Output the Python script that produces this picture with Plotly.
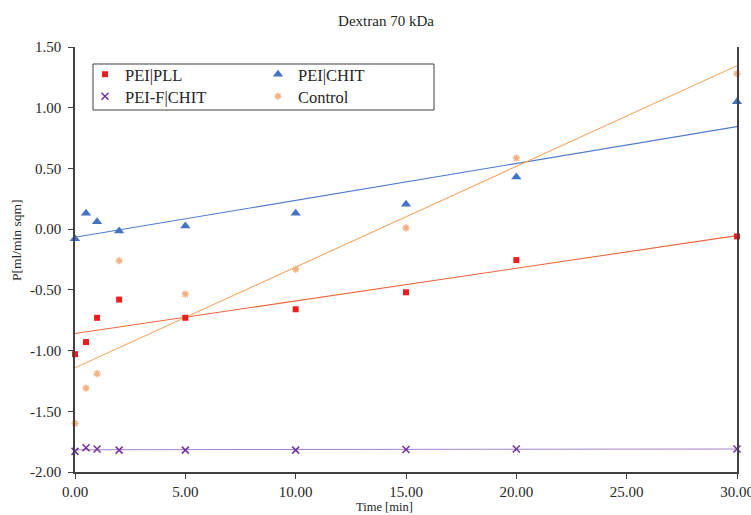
import numpy as np
import plotly.graph_objects as go

# Sampling times [min]
time_min = [0, 0.5, 1, 2, 5, 10, 15, 20, 30]

# Permeability values P [ml/min sqm] for each membrane
pei_pll = [-1.03, -0.93, -0.73, -0.58, -0.73, -0.66, -0.52, -0.255, -0.06]
pei_chit = [-0.08, 0.13, 0.06, -0.015, 0.025, 0.13, 0.205, 0.43, 1.05]
peif_chit = [-1.83, -1.80, -1.81, -1.82, -1.82, -1.82, -1.815, -1.81, -1.81]
control = [-1.60, -1.31, -1.19, -0.26, -0.535, -0.33, 0.01, 0.585, 1.28]

x_ticks = [0, 5, 10, 15, 20, 25, 30]
y_ticks = [-2.0, -1.5, -1.0, -0.5, 0.0, 0.5, 1.0, 1.5]
x_ticktext = [f"{v:.2f}" for v in x_ticks]
y_ticktext = [f"{v:.2f}" for v in y_ticks]

FONT = "Liberation Serif, Times New Roman, serif"
TEXT = "#262626"

# Plot-area geometry in pixels, used to place legend entries and titles
L, R, T, B = 75, 14, 47, 43
W, H = 751, 515
PW, PH = W - L - R, H - T - B


def px_x(px):
    return (px - L) / PW


def px_y(py):
    return 1 - (py - T) / PH


series = [
    # name, values, marker symbol, marker color, size, trend color, legend id, (x px, y px)
    ("PEI|PLL", pei_pll, "square", "#EE1D1D", 6, "#E9673F", "legend", (85, 57)),
    ("PEI-F|CHIT", peif_chit, "x-thin-open", "#7030A0", 7, "#A384CF", "legend2", (85, 79)),
    ("PEI|CHIT", pei_chit, "triangle-up", "#4472C4", 9, "#4F7CCB", "legend3", (258, 57)),
    ("Control", control, "asterisk-open", "#F4B183", 6, "#F4A865", "legend4", (258, 79)),
]

fig = go.Figure()

t = np.array(time_min, dtype=float)
t_line = np.array([0.0, 30.0])

# Linear trendlines drawn first so the markers sit on top
for name, vals, sym, mcol, msize, lcol, leg, pos in series:
    slope, intercept = np.polyfit(t, np.array(vals, dtype=float), 1)
    fig.add_trace(go.Scatter(
        x=t_line, y=slope * t_line + intercept, mode="lines",
        line=dict(color=lcol, width=1.1), showlegend=False, hoverinfo="skip",
    ))

for name, vals, sym, mcol, msize, lcol, leg, pos in series:
    fig.add_trace(go.Scatter(
        x=time_min, y=vals, mode="markers", name=name, legend=leg,
        marker=dict(symbol=sym, color=mcol, size=msize,
                    line=dict(color=mcol, width=1.5 if "open" in sym else 0)),
        cliponaxis=False,
    ))

legend_font = dict(family=FONT, size=16.5, color=TEXT)
legends = {}
for name, vals, sym, mcol, msize, lcol, leg, (lx, ly) in series:
    legends[leg] = dict(
        x=px_x(lx), xanchor="left", y=px_y(ly), yanchor="top",
        orientation="v", bgcolor="rgba(0,0,0,0)", borderwidth=0,
        font=legend_font,
    )

tick_font = dict(family=FONT, size=15, color=TEXT)

fig.update_layout(
    width=W, height=H,
    margin=dict(l=L, r=R, t=T, b=B, autoexpand=False),
    paper_bgcolor="white", plot_bgcolor="white",
    font=dict(family=FONT, size=13, color=TEXT),
    title=dict(text="Dextran 70 kDa", x=386 / W, xanchor="center",
               y=1 - 21 / H, yanchor="middle",
               font=dict(family=FONT, size=15, color=TEXT)),
    xaxis=dict(
        range=[0, 30], tickvals=x_ticks, ticktext=x_ticktext,
        ticks="outside", ticklen=5, tickcolor="#404040",
        showline=True, linecolor="#404040", linewidth=1.5,
        showgrid=False, zeroline=False, tickfont=tick_font,
        ticklabeloverflow="allow", automargin=False, ticklabelstandoff=0,
    ),
    yaxis=dict(
        range=[-2, 1.5], tickvals=y_ticks, ticktext=y_ticktext,
        ticks="outside", ticklen=5, tickcolor="#404040",
        showline=True, mirror=True, linecolor="#404040", linewidth=1.5,
        showgrid=False, zeroline=False, tickfont=tick_font,
        ticklabeloverflow="allow", automargin=False, ticklabelstandoff=4,
    ),
    annotations=[
        dict(text="Time [min]", xref="paper", yref="paper",
             x=px_x(384), y=px_y(507), xanchor="center", yanchor="middle",
             showarrow=False, font=dict(family=FONT, size=12.5, color=TEXT)),
        dict(text="P[ml/min sqm]", xref="paper", yref="paper",
             x=px_x(16), y=px_y(241), xanchor="center", yanchor="middle",
             textangle=-90, showarrow=False,
             font=dict(family=FONT, size=13.5, color=TEXT)),
    ],
    shapes=[dict(
        type="rect", xref="paper", yref="paper",
        x0=px_x(93), x1=px_x(434), y0=px_y(110), y1=px_y(64),
        line=dict(color="#404040", width=1), fillcolor="rgba(0,0,0,0)",
        layer="above",
    )],
    showlegend=True,
    **legends,
)

fig.write_html("out.html")
